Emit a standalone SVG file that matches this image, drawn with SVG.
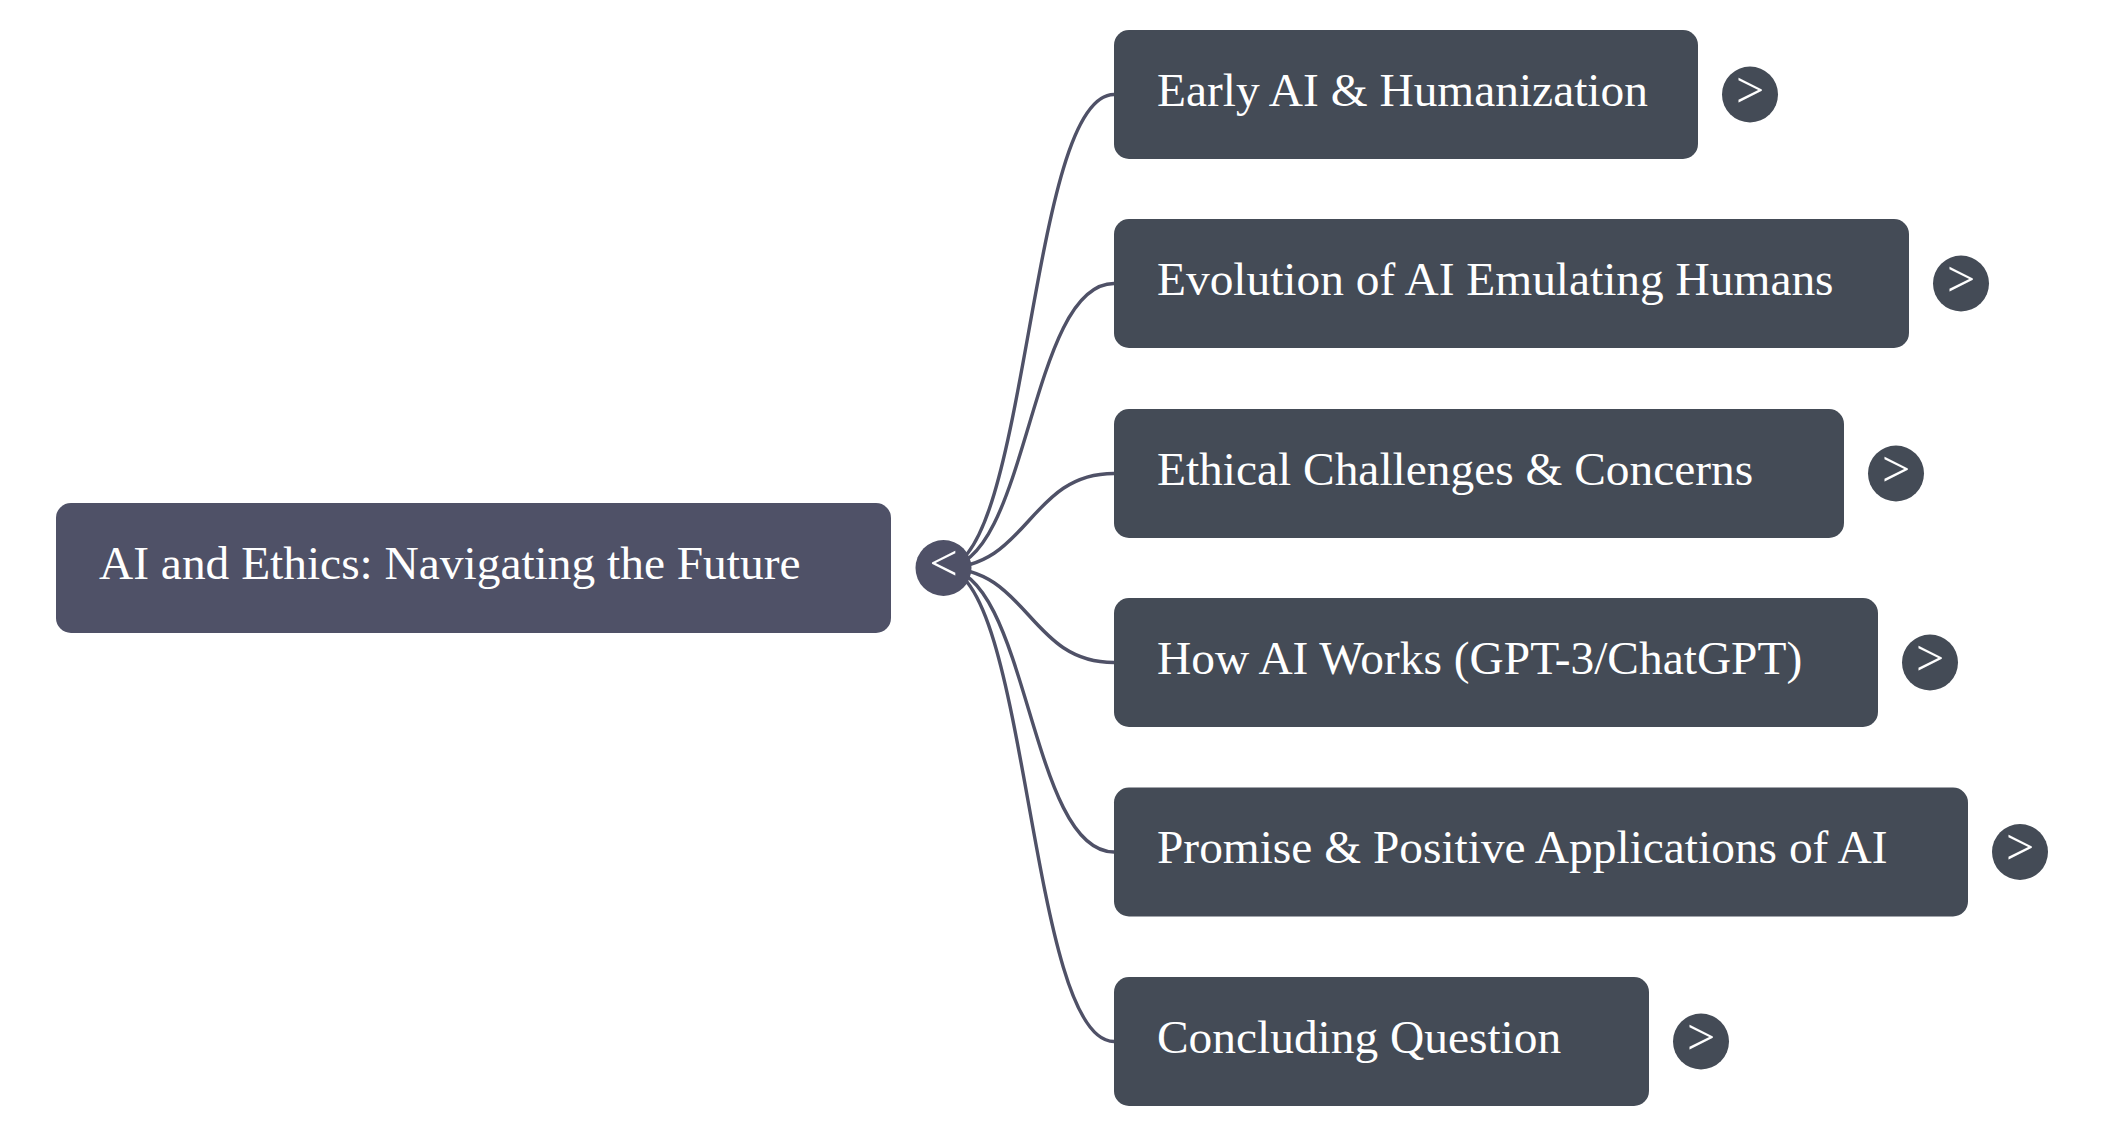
<svg xmlns="http://www.w3.org/2000/svg" width="2105" height="1137" viewBox="0 0 2105 1137">
  <style>
    .root rect { fill: #4f5167; }
    .child rect { fill: #444b56; }
    .label { font-family: "Liberation Serif", "Times New Roman", serif; font-size: 47.4px; fill: #ffffff; }
    .btn-root { fill: #4f5167; }
    .btn { fill: #444b56; }
    .glyph { font-family: "Liberation Serif", "Times New Roman", serif; font-size: 50px; fill: #ffffff; text-anchor: middle; }
    .link { fill: none; stroke: #4f5167; stroke-width: 3.4; }
  </style>
  <rect width="2105" height="1137" fill="#ffffff"/>
  <g id="connectors">
    <path class="link" d="M 943.5 568 C 1028.75 568 1028.75 94.5 1114 94.5"/>
    <path class="link" d="M 943.5 568 C 1028.75 568 1028.75 283.5 1114 283.5"/>
    <path class="link" d="M 943.5 568 C 1028.75 568 1028.75 473.5 1114 473.5"/>
    <path class="link" d="M 943.5 568 C 1028.75 568 1028.75 662.5 1114 662.5"/>
    <path class="link" d="M 943.5 568 C 1028.75 568 1028.75 852 1114 852"/>
    <path class="link" d="M 943.5 568 C 1028.75 568 1028.75 1041.5 1114 1041.5"/>
  </g>
  <g id="root" class="root">
    <rect x="56" y="503" width="835" height="130" rx="15"/>
    <text class="label" x="99" y="579">AI and Ethics: Navigating the Future</text>
    <circle class="btn-root" cx="943.5" cy="568" r="28"/>
    <text class="glyph" x="943.5" y="580">&lt;</text>
  </g>
  <g id="node1" class="child">
    <rect x="1114" y="30" width="584" height="129" rx="15"/>
    <text class="label" x="1157" y="106">Early AI &amp; Humanization</text>
    <circle class="btn" cx="1750" cy="94.5" r="28"/>
    <text class="glyph" x="1750" y="106.5">&gt;</text>
  </g>
  <g id="node2" class="child">
    <rect x="1114" y="219" width="795" height="129" rx="15"/>
    <text class="label" x="1157" y="295">Evolution of AI Emulating Humans</text>
    <circle class="btn" cx="1961" cy="283.5" r="28"/>
    <text class="glyph" x="1961" y="295.5">&gt;</text>
  </g>
  <g id="node3" class="child">
    <rect x="1114" y="409" width="730" height="129" rx="15"/>
    <text class="label" x="1157" y="484.5">Ethical Challenges &amp; Concerns</text>
    <circle class="btn" cx="1896" cy="473.5" r="28"/>
    <text class="glyph" x="1896" y="485.5">&gt;</text>
  </g>
  <g id="node4" class="child">
    <rect x="1114" y="598" width="764" height="129" rx="15"/>
    <text class="label" x="1157" y="673.5">How AI Works (GPT-3/ChatGPT)</text>
    <circle class="btn" cx="1930" cy="662.5" r="28"/>
    <text class="glyph" x="1930" y="674.5">&gt;</text>
  </g>
  <g id="node5" class="child">
    <rect x="1114" y="787.5" width="854" height="129" rx="15"/>
    <text class="label" x="1157" y="863">Promise &amp; Positive Applications of AI</text>
    <circle class="btn" cx="2020" cy="852" r="28"/>
    <text class="glyph" x="2020" y="864">&gt;</text>
  </g>
  <g id="node6" class="child">
    <rect x="1114" y="977" width="535" height="129" rx="15"/>
    <text class="label" x="1157" y="1052.5">Concluding Question</text>
    <circle class="btn" cx="1701" cy="1041.5" r="28"/>
    <text class="glyph" x="1701" y="1053.5">&gt;</text>
  </g>
</svg>
